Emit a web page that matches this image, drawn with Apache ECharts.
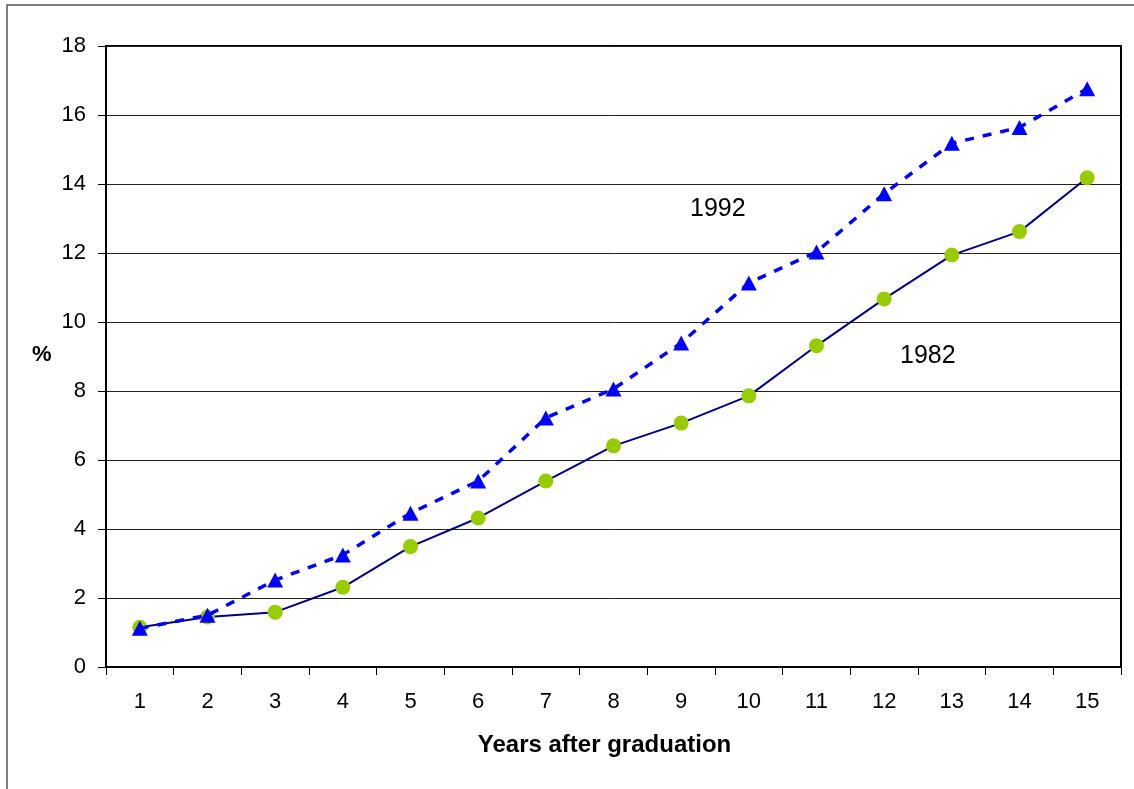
<!DOCTYPE html>
<html><head><meta charset="utf-8">
<script src="https://cdn.jsdelivr.net/npm/echarts@6/dist/echarts.min.js"></script>
<style>html,body{margin:0;padding:0;background:#fff}#c{width:1134px;height:789px}</style>
</head><body><div id="c"></div>
<script>
const categories = ['1','2','3','4','5','6','7','8','9','10','11','12','13','14','15'];
const yTicks = [0,2,4,6,8,10,12,14,16,18];
const series1982 = [1.15,1.45,1.59,2.31,3.49,4.32,5.39,6.41,7.07,7.86,9.31,10.67,11.94,12.62,14.18];
const series1992 = [1.12,1.5,2.52,3.25,4.46,5.39,7.22,8.06,9.39,11.13,12.03,13.72,15.18,15.64,16.76];
const font = 'Liberation Sans, Arial, sans-serif';
const chart = echarts.init(document.getElementById('c'));
chart.setOption({
  animation: false,
  backgroundColor: '#fff',
  grid: {left:106, right:13, top:46, bottom:122, show:true, borderColor:'#000', borderWidth:2, containLabel:false},
  graphic: [
    {type:'rect', shape:{x:7, y:5, width:1300, height:1000}, style:{fill:'none', stroke:'#555', lineWidth:1.5}, z:-1},
    {type:'text', left:32, top:344, style:{text:'%', font:'bold 22px '+font, fill:'#000'}},
    {type:'text', left:690, top:197, style:{text:'1992', font:'25px '+font, fill:'#000'}},
    {type:'text', left:900, top:344, style:{text:'1982', font:'25px '+font, fill:'#000'}}
  ],
  xAxis: {
    type:'category', data:categories, boundaryGap:true,
    name:'Years after graduation', nameLocation:'middle', nameGap:66,
    nameTextStyle:{fontFamily:font, fontSize:24, fontWeight:'bold', color:'#000', padding:[0,18,0,0]},
    axisLine:{lineStyle:{color:'#000', width:2}},
    axisTick:{show:true, length:8, lineStyle:{color:'#000', width:1}},
    axisLabel:{fontFamily:font, fontSize:22, color:'#000', margin:24},
    splitLine:{show:false}
  },
  yAxis: {
    type:'value', min:yTicks[0], max:yTicks[yTicks.length-1], interval:2,
    axisLine:{show:true, lineStyle:{color:'#000', width:2}},
    axisTick:{show:true, length:8, lineStyle:{color:'#000', width:1}},
    axisLabel:{fontFamily:font, fontSize:22, color:'#000', margin:20},
    splitLine:{show:true, lineStyle:{color:'#222', width:1}}
  },
  series: [
    {name:'1982', type:'line', data:series1982, symbol:'circle', symbolSize:15,
     lineStyle:{color:'#000080', width:2}, itemStyle:{color:'#99CC00'}, z:2},
    {name:'1992', type:'line', data:series1992, symbol:'triangle', symbolSize:[16,15],
     lineStyle:{color:'#0000FF', width:3.5, type:[9,9]}, itemStyle:{color:'#0000FF'}, z:3}
  ]
});
</script></body></html>
